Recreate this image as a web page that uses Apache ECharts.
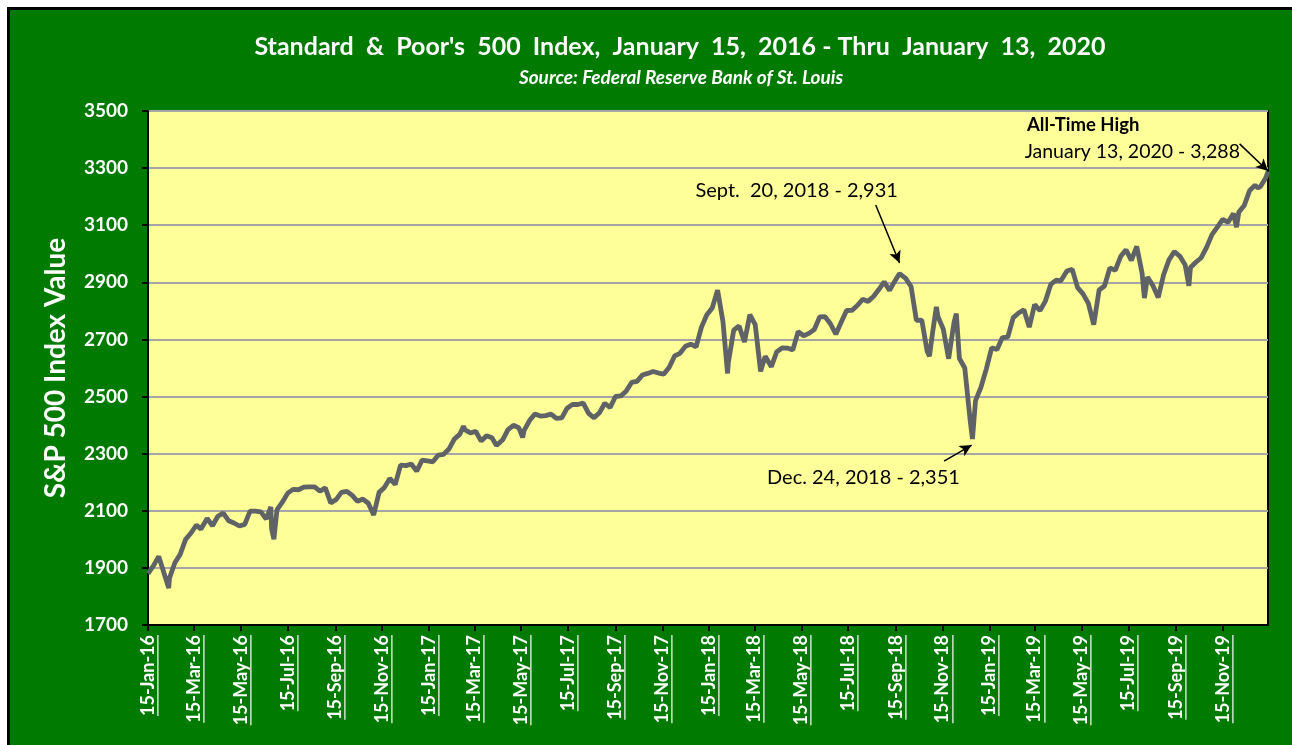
<!DOCTYPE html>
<html><head><meta charset="utf-8">
<script src="https://cdn.jsdelivr.net/npm/echarts@6/dist/echarts.min.js"></script>
<style>html,body{margin:0;padding:0;background:#fff}#c{width:1292px;height:745px}</style>
</head><body><div id="c"></div>
<script>
// Trading dates (mostly weekly closes plus notable days) and S&P 500 closes
const dates = [
'2016-01-15','2016-01-22','2016-01-29','2016-02-05','2016-02-11','2016-02-12','2016-02-19','2016-02-26','2016-03-04','2016-03-11','2016-03-18','2016-03-24','2016-04-01','2016-04-08','2016-04-15','2016-04-22','2016-04-29','2016-05-06','2016-05-13','2016-05-20','2016-05-27','2016-06-03','2016-06-10','2016-06-17','2016-06-23','2016-06-24','2016-06-27','2016-07-01','2016-07-08','2016-07-15','2016-07-22','2016-07-29','2016-08-05','2016-08-12','2016-08-19','2016-08-26','2016-09-02','2016-09-09','2016-09-16','2016-09-23','2016-09-30','2016-10-07','2016-10-14','2016-10-21','2016-10-28','2016-11-04','2016-11-11','2016-11-18','2016-11-25','2016-12-02','2016-12-09','2016-12-16','2016-12-23','2016-12-30',
'2017-01-06','2017-01-13','2017-01-20','2017-01-27','2017-02-03','2017-02-10','2017-02-17','2017-02-24','2017-03-01','2017-03-03','2017-03-10','2017-03-17','2017-03-24','2017-03-31','2017-04-07','2017-04-13','2017-04-21','2017-04-28','2017-05-05','2017-05-12','2017-05-17','2017-05-19','2017-05-26','2017-06-02','2017-06-09','2017-06-16','2017-06-23','2017-06-30','2017-07-07','2017-07-14','2017-07-21','2017-07-28','2017-08-04','2017-08-11','2017-08-18','2017-08-25','2017-09-01','2017-09-08','2017-09-15','2017-09-22','2017-09-29','2017-10-06','2017-10-13','2017-10-20','2017-10-27','2017-11-03','2017-11-10','2017-11-17','2017-11-24','2017-12-01','2017-12-08','2017-12-15','2017-12-22','2017-12-29',
'2018-01-05','2018-01-12','2018-01-19','2018-01-26','2018-02-02','2018-02-08','2018-02-09','2018-02-16','2018-02-23','2018-03-02','2018-03-09','2018-03-16','2018-03-23','2018-03-29','2018-04-06','2018-04-13','2018-04-20','2018-04-27','2018-05-04','2018-05-11','2018-05-18','2018-05-25','2018-06-01','2018-06-08','2018-06-15','2018-06-22','2018-06-29','2018-07-06','2018-07-13','2018-07-20','2018-07-27','2018-08-03','2018-08-10','2018-08-17','2018-08-24','2018-08-31','2018-09-07','2018-09-14','2018-09-20','2018-09-21','2018-09-28','2018-10-05','2018-10-12','2018-10-19','2018-10-26','2018-10-29','2018-11-02','2018-11-07','2018-11-09','2018-11-16','2018-11-23','2018-11-30','2018-12-03','2018-12-07','2018-12-14','2018-12-21','2018-12-24','2018-12-28',
'2019-01-04','2019-01-11','2019-01-18','2019-01-25','2019-02-01','2019-02-08','2019-02-15','2019-02-22','2019-03-01','2019-03-08','2019-03-15','2019-03-22','2019-03-29','2019-04-05','2019-04-12','2019-04-18','2019-04-26','2019-05-03','2019-05-10','2019-05-17','2019-05-24','2019-05-31','2019-06-07','2019-06-14','2019-06-21','2019-06-28','2019-07-05','2019-07-12','2019-07-19','2019-07-26','2019-08-02','2019-08-05','2019-08-09','2019-08-16','2019-08-23','2019-08-30','2019-09-06','2019-09-13','2019-09-20','2019-09-27','2019-10-02','2019-10-04','2019-10-11','2019-10-18','2019-10-25','2019-11-01','2019-11-08','2019-11-15','2019-11-22','2019-11-29','2019-12-03','2019-12-06','2019-12-13','2019-12-20','2019-12-27','2019-12-31','2020-01-03','2020-01-10','2020-01-13'
];
const closes = [
1880.33,1906.90,1940.24,1880.05,1829.08,1864.78,1917.78,1948.05,1999.99,2022.19,2049.58,2035.94,2072.78,2047.60,2080.73,2091.58,2065.30,2057.14,2046.61,2052.32,2099.06,2099.13,2096.07,2071.22,2113.32,2037.41,2000.54,2102.95,2129.90,2161.74,2175.03,2173.60,2182.87,2184.05,2183.87,2169.04,2179.98,2127.81,2139.16,2164.69,2168.27,2153.74,2132.98,2141.16,2126.41,2085.18,2164.45,2181.90,2213.35,2191.95,2259.53,2258.07,2263.79,2238.83,
2276.98,2274.64,2271.31,2294.69,2297.42,2316.10,2351.16,2367.34,2395.96,2383.12,2372.60,2378.25,2343.98,2362.72,2355.54,2328.95,2348.69,2384.20,2399.29,2390.90,2357.03,2381.73,2415.82,2439.07,2431.77,2433.15,2438.30,2423.41,2425.18,2459.27,2472.54,2472.10,2476.83,2441.32,2425.55,2443.05,2476.55,2461.43,2500.23,2502.22,2519.36,2549.33,2553.17,2575.21,2581.07,2587.84,2582.30,2578.85,2602.42,2642.22,2651.50,2675.81,2683.34,2673.61,
2743.15,2786.24,2810.30,2872.87,2762.13,2581.00,2619.55,2732.22,2747.30,2691.25,2786.57,2752.01,2588.26,2640.87,2604.47,2656.30,2670.14,2669.91,2663.42,2727.72,2712.97,2721.33,2734.62,2779.03,2779.66,2754.88,2718.37,2759.82,2801.31,2801.83,2818.82,2840.35,2833.28,2850.13,2874.69,2901.52,2871.68,2904.98,2930.75,2929.67,2913.98,2885.57,2767.13,2767.78,2658.69,2641.25,2723.06,2813.89,2781.01,2736.27,2632.56,2760.17,2790.37,2633.08,2599.95,2416.62,2351.10,2485.74,
2531.94,2596.26,2670.71,2664.76,2706.53,2707.88,2775.60,2792.67,2803.69,2743.07,2822.48,2800.71,2834.40,2892.74,2907.41,2905.03,2939.88,2945.64,2881.40,2859.53,2826.06,2752.06,2873.34,2886.98,2950.46,2941.76,2990.41,3013.77,2976.61,3025.86,2932.05,2844.74,2918.65,2888.68,2847.11,2926.46,2978.71,3007.39,2992.07,2961.79,2887.61,2952.01,2970.27,2986.20,3022.55,3066.91,3093.08,3120.46,3110.29,3140.98,3093.20,3145.91,3168.80,3221.22,3240.02,3230.78,3234.85,3265.35,3288.13
];
const tickLabels = ['15-Jan-16','15-Mar-16','15-May-16','15-Jul-16','15-Sep-16','15-Nov-16','15-Jan-17','15-Mar-17','15-May-17','15-Jul-17','15-Sep-17','15-Nov-17','15-Jan-18','15-Mar-18','15-May-18','15-Jul-18','15-Sep-18','15-Nov-18','15-Jan-19','15-Mar-19','15-May-19','15-Jul-19','15-Sep-19','15-Nov-19'];
const yTicks = [1700,1900,2100,2300,2500,2700,2900,3100,3300,3500];

const MON = ['Jan','Feb','Mar','Apr','May','Jun','Jul','Aug','Sep','Oct','Nov','Dec'];
function ts(s){const p=s.split('-').map(Number);return Date.UTC(p[0],p[1]-1,p[2]);}
function tsLabel(l){const p=l.split('-');return Date.UTC(2000+Number(p[2]),MON.indexOf(p[1]),Number(p[0]));}
const tickTs = tickLabels.map(tsLabel);
function fmt(v){const i=tickTs.indexOf(v);return i>=0?tickLabels[i]:'';}
const seriesData = dates.map((d,i)=>[ts(d),closes[i]]);

const FONT = 'Lato, "Open Sans", sans-serif';
const XFS = 18;
const chart = echarts.init(document.getElementById('c'));
const bgRect = {type:'rect',z:-10,silent:true,shape:{x:8.5,y:8.5,width:1400,height:900},style:{fill:'#007a00',stroke:'#000',lineWidth:3}};
chart.setOption({
  animation:false,
  backgroundColor:'#ffffff',
  graphic:[bgRect],
  title:[
    {text:"Standard  &  Poor's  500  Index,  January  15,  2016 - Thru  January  13,  2020",left:675,top:29,textAlign:'center',
     textStyle:{color:'#fff',fontFamily:FONT,fontWeight:'bold',fontSize:25}},
    {text:'Source: Federal Reserve Bank of St. Louis',left:676,top:63,textAlign:'center',
     textStyle:{color:'#fff',fontFamily:FONT,fontWeight:'bold',fontStyle:'italic',fontSize:19}}
  ],
  grid:{left:148,right:24,top:111,bottom:120,show:true,backgroundColor:'#ffff99',borderColor:'#000',borderWidth:2},
  xAxis:{type:'value',min:ts('2016-01-15'),max:ts('2020-01-13'),
    axisLine:{lineStyle:{color:'#000',width:2}},
    axisTick:{show:true,customValues:tickTs,length:6,lineStyle:{color:'#000',width:2}},
    axisLabel:{customValues:tickTs,formatter:fmt,rotate:90,margin:10,color:'#fff',fontFamily:FONT,fontWeight:'bold',fontSize:XFS},
    splitLine:{show:false}},
  yAxis:{type:'value',min:1700,max:3500,interval:200,
    name:'S&P 500 Index Value',nameLocation:'middle',nameRotate:90,nameGap:78,
    nameTextStyle:{color:'#fff',fontFamily:FONT,fontWeight:'bold',fontSize:28},
    axisLine:{show:true,lineStyle:{color:'#000',width:2}},
    axisTick:{show:true,length:6,lineStyle:{color:'#000',width:2}},
    axisLabel:{margin:20,color:'#fff',fontFamily:FONT,fontWeight:'bold',fontSize:19,formatter:v=>String(v)},
    splitLine:{lineStyle:{color:'#a6a6a6',width:2}}},
  series:[{type:'line',data:seriesData,showSymbol:false,lineStyle:{color:'#5f6366',width:4.8},
    markPoint:{symbol:'circle',symbolSize:0,silent:true,
      label:{show:true,color:'#000',fontFamily:FONT,fontSize:20},
      data:[
        {coord:[ts('2019-03-05'),3451],label:{formatter:'All-Time High',align:'left',fontWeight:'bold',fontSize:18.5}},
        {coord:[ts('2019-03-02'),3356],label:{formatter:'January 13, 2020 - 3,288',align:'left',fontSize:19.5}},
        {coord:[ts('2018-05-09'),3223],label:{formatter:'Sept.  20, 2018 - 2,931',align:'center'}},
        {coord:[ts('2018-08-04'),2218],label:{formatter:'Dec. 24, 2018 - 2,351',align:'center'}}
      ]},
    markLine:{silent:true,symbol:['none','arrow'],symbolSize:[9,12],label:{show:false},lineStyle:{color:'#000',width:1.5,type:'solid'},
      data:[
        [{coord:[ts('2019-12-07'),3385]},{coord:[ts('2020-01-13'),3290]}],
        [{coord:[ts('2018-08-20'),3171]},{coord:[ts('2018-09-20'),2968]}],
        [{coord:[ts('2018-11-17'),2274]},{coord:[ts('2018-12-23'),2330]}]
      ]}
  }]
});
// underline decoration for rotated tick labels
const ctx = document.createElement('canvas').getContext('2d');
ctx.font = 'bold '+XFS+'px '+FONT;
const axisY = chart.convertToPixel({yAxisIndex:0},1700);
const ul = tickTs.map((t,i)=>{
  const x = Math.round(chart.convertToPixel({xAxisIndex:0},t))+XFS*0.55;
  const w = ctx.measureText(tickLabels[i]).width;
  const y0 = axisY+10;
  return {type:'line',silent:true,z:10,shape:{x1:x,y1:y0,x2:x,y2:y0+w},style:{stroke:'#fff',lineWidth:1.2}};
});
chart.setOption({graphic:[bgRect].concat(ul)});
</script></body></html>
